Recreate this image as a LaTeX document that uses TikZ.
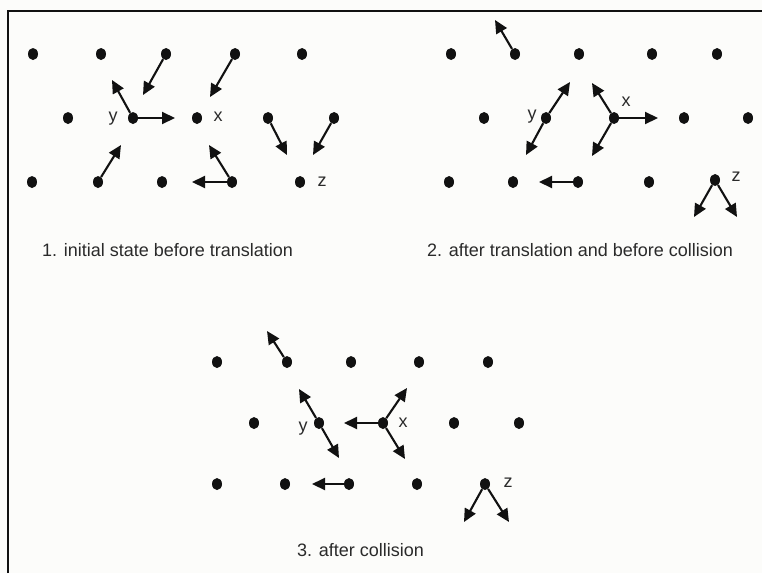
\documentclass[tikz,border=0pt]{standalone}
\usepackage{fontspec}
\setmainfont{Liberation Sans}
\usetikzlibrary{arrows.meta,shapes.geometric}
\definecolor{paper}{HTML}{FCFCFA}
\definecolor{ink}{HTML}{111111}
\definecolor{txt}{HTML}{2A2A2A}
\tikzset{
  dot/.style={ellipse,fill=ink,inner sep=0pt,minimum width=10pt,minimum height=12pt},
  arr/.style={draw=ink,line width=2.1pt,-{Triangle[length=13pt,width=12pt]}},
  lab/.style={text=txt,font=\fontsize{18}{21}\selectfont,inner sep=0pt},
  captext/.style={text=txt,font=\fontsize{18}{21}\selectfont,inner sep=0pt},
  frameline/.style={draw=ink,line width=2.2pt}
}
\begin{document}
\begin{tikzpicture}[x=1pt,y=-1pt]
\useasboundingbox (0,0) rectangle (762,573);
\fill[paper] (0,0) rectangle (762,573);
\coordinate (fb) at (8,573);
\coordinate (fc) at (8,11);
\coordinate (fr) at (762,11);
\draw[frameline] (fb) -- (fc) -- (fr);

% ---------- panel 1 ----------
\node[dot] (a11) at (33,54) {};
\node[dot] (a12) at (101,54) {};
\node[dot] (a13) at (166,54) {};
\node[dot] (a14) at (235,54) {};
\node[dot] (a15) at (302,54) {};
\node[dot] (a21) at (68,118) {};
\node[dot] (a22) at (133,118) {};
\node[dot] (a23) at (197,118) {};
\node[dot] (a24) at (268,118) {};
\node[dot] (a25) at (334,118) {};
\node[dot] (a31) at (32,182) {};
\node[dot] (a32) at (98,182) {};
\node[dot] (a33) at (162,182) {};
\node[dot] (a34) at (232,182) {};
\node[dot] (a35) at (300,182) {};
\draw[arr] (a13) -- ++(-23,41);
\draw[arr] (a14) -- ++(-25,43);
\draw[arr] (a22) -- ++(-21,-38);
\draw[arr] (a22) -- ++(42,0);
\draw[arr] (a32) -- ++(23,-37);
\draw[arr] (a34) -- ++(-23,-37);
\draw[arr] (a34) -- ++(-40,0);
\draw[arr] (a24) -- ++(19,37);
\draw[arr] (a25) -- ++(-21,37);
\node[lab] (ly1) at (113,119) {y};
\node[lab] (lx1) at (218,117) {x};
\node[lab] (lz1) at (322,182) {z};
\node[captext,anchor=west] (c1) at (42,250) {1. initial state before translation};

% ---------- panel 2 ----------
\node[dot] (b11) at (451,54) {};
\node[dot] (b12) at (515,54) {};
\node[dot] (b13) at (579,54) {};
\node[dot] (b14) at (652,54) {};
\node[dot] (b15) at (717,54) {};
\node[dot] (b21) at (484,118) {};
\node[dot] (b22) at (546,118) {};
\node[dot] (b23) at (614,118) {};
\node[dot] (b24) at (684,118) {};
\node[dot] (b25) at (748,118) {};
\node[dot] (b31) at (449,182) {};
\node[dot] (b32) at (513,182) {};
\node[dot] (b33) at (578,182) {};
\node[dot] (b34) at (649,182) {};
\node[dot] (b35) at (715,180) {};
\draw[arr] (b12) -- ++(-20,-34);
\draw[arr] (b22) -- ++(24,-36);
\draw[arr] (b22) -- ++(-20,37);
\draw[arr] (b23) -- ++(-22,-35);
\draw[arr] (b23) -- ++(44,0);
\draw[arr] (b23) -- ++(-22,38);
\draw[arr] (b33) -- ++(-39,0);
\draw[arr] (b35) -- ++(-21,37);
\draw[arr] (b35) -- ++(22,37);
\node[lab] (ly2) at (532,117) {y};
\node[lab] (lx2) at (626,102) {x};
\node[lab] (lz2) at (736,177) {z};
\node[captext,anchor=west] (c2) at (427,250) {2. after translation and before collision};

% ---------- panel 3 ----------
\node[dot] (c11) at (217,362) {};
\node[dot] (c12) at (287,362) {};
\node[dot] (c13) at (351,362) {};
\node[dot] (c14) at (419,362) {};
\node[dot] (c15) at (488,362) {};
\node[dot] (c21) at (254,423) {};
\node[dot] (c22) at (319,423) {};
\node[dot] (c23) at (383,423) {};
\node[dot] (c24) at (454,423) {};
\node[dot] (c25) at (519,423) {};
\node[dot] (c31) at (217,484) {};
\node[dot] (c32) at (285,484) {};
\node[dot] (c33) at (349,484) {};
\node[dot] (c34) at (417,484) {};
\node[dot] (c35) at (485,484) {};
\draw[arr] (c12) -- ++(-20,-31);
\draw[arr] (c22) -- ++(-20,-34);
\draw[arr] (c22) -- ++(20,35);
\draw[arr] (c23) -- ++(-39,0);
\draw[arr] (c23) -- ++(24,-35);
\draw[arr] (c23) -- ++(22,36);
\draw[arr] (c33) -- ++(-37,0);
\draw[arr] (c35) -- ++(-21,38);
\draw[arr] (c35) -- ++(24,38);
\node[lab] (ly3) at (303,429) {y};
\node[lab] (lx3) at (403,423) {x};
\node[lab] (lz3) at (508,483) {z};
\node[captext,anchor=west] (c3) at (297,550) {3. after collision};
\end{tikzpicture}
\end{document}
